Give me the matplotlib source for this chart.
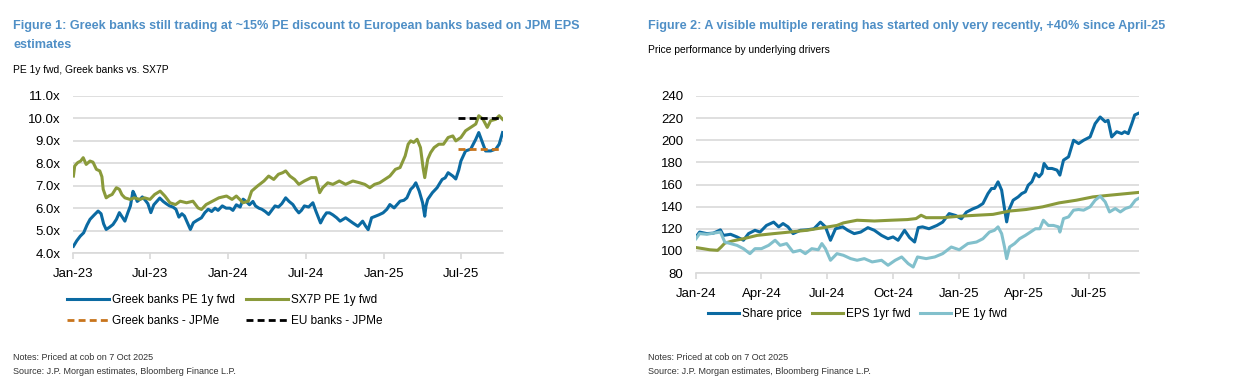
import matplotlib
matplotlib.use('Agg')
import matplotlib.pyplot as plt
import matplotlib.dates as mdates
import pandas as pd

# ---- Figure 1 data: PE 1y fwd ----
greek_dates = ['2023-01-02', '2023-01-10', '2023-01-18', '2023-01-26', '2023-02-03', '2023-02-10',
               '2023-02-20', '2023-03-01', '2023-03-08', '2023-03-14', '2023-03-20', '2023-03-28',
               '2023-04-05', '2023-04-13', '2023-04-20', '2023-04-27', '2023-05-03', '2023-05-10',
               '2023-05-16', '2023-05-22', '2023-05-26', '2023-06-01', '2023-06-08', '2023-06-13',
               '2023-06-20', '2023-06-26', '2023-07-03', '2023-07-10', '2023-07-17', '2023-07-24',
               '2023-08-01', '2023-08-08', '2023-08-16', '2023-08-24', '2023-08-31', '2023-09-07',
               '2023-09-14', '2023-09-20', '2023-09-27', '2023-10-04', '2023-10-11', '2023-10-19',
               '2023-10-30', '2023-11-07', '2023-11-15', '2023-11-23', '2023-12-01', '2023-12-08',
               '2023-12-18', '2023-12-27', '2024-01-05', '2024-01-12', '2024-01-20', '2024-01-29',
               '2024-02-05', '2024-02-12', '2024-02-20', '2024-02-28', '2024-03-05', '2024-03-13',
               '2024-03-20', '2024-03-28', '2024-04-05', '2024-04-12', '2024-04-20', '2024-04-28',
               '2024-05-06', '2024-05-15', '2024-05-23', '2024-06-01', '2024-06-08', '2024-06-15',
               '2024-06-21', '2024-06-28', '2024-07-08', '2024-07-18', '2024-07-25', '2024-08-05',
               '2024-08-12', '2024-08-19', '2024-08-26', '2024-09-03', '2024-09-12', '2024-09-20',
               '2024-10-03', '2024-10-12', '2024-10-20', '2024-11-01', '2024-11-12', '2024-11-19',
               '2024-11-25', '2024-12-03', '2024-12-12', '2024-12-20', '2024-12-30', '2025-01-08',
               '2025-01-15', '2025-01-25', '2025-02-08', '2025-02-17', '2025-02-24', '2025-03-05',
               '2025-03-11', '2025-03-17', '2025-03-25', '2025-04-02', '2025-04-07', '2025-04-10',
               '2025-04-14', '2025-04-25', '2025-05-06', '2025-05-12', '2025-05-18', '2025-05-25',
               '2025-06-01', '2025-06-12', '2025-06-19', '2025-06-26', '2025-07-01', '2025-07-12',
               '2025-07-24', '2025-08-05', '2025-08-12', '2025-08-22', '2025-08-28', '2025-09-09',
               '2025-09-21', '2025-09-29', '2025-10-07']
greek_pe = [4.30, 4.55, 4.75, 4.90, 5.25, 5.50,
            5.70, 5.87, 5.75, 5.30, 5.05, 5.15,
            5.27, 5.50, 5.80, 5.60, 5.42, 5.80,
            6.10, 6.75, 6.60, 6.30, 6.40, 6.50,
            6.35, 6.20, 5.80, 6.15, 6.30, 6.45,
            6.30, 6.20, 6.10, 6.05, 5.95, 5.60,
            5.75, 5.65, 5.35, 5.05, 5.35, 5.45,
            5.57, 5.80, 5.95, 5.85, 6.00, 5.90,
            6.10, 6.00, 6.00, 5.90, 6.15, 6.05,
            6.40, 6.30, 6.15, 6.30, 6.10, 6.00,
            5.95, 5.85, 5.72, 5.90, 6.10, 6.05,
            6.20, 6.46, 6.30, 6.16, 5.95, 5.79,
            5.90, 6.10, 6.05, 6.24, 5.87, 5.34,
            5.60, 5.79, 5.79, 5.70, 5.57, 5.42,
            5.57, 5.45, 5.34, 5.19, 5.42, 5.20,
            5.04, 5.57, 5.64, 5.70, 5.79, 5.95,
            6.16, 6.01, 6.31, 6.35, 6.46, 6.84,
            6.95, 7.13, 6.76, 6.24, 5.64, 6.10,
            6.39, 6.69, 6.91, 7.10, 7.28, 7.35,
            7.58, 7.43, 7.30, 7.70, 8.10, 8.55,
            8.63, 9.07, 9.37, 8.85, 8.55, 8.55,
            8.63, 8.85, 9.37]

sx7p_dates = ['2023-01-02', '2023-01-05', '2023-01-12', '2023-01-19', '2023-01-25', '2023-02-01',
              '2023-02-10', '2023-02-17', '2023-02-25', '2023-03-05', '2023-03-10', '2023-03-13',
              '2023-03-20', '2023-03-27', '2023-04-03', '2023-04-13', '2023-04-20', '2023-04-26',
              '2023-05-03', '2023-05-15', '2023-05-25', '2023-06-07', '2023-06-18', '2023-07-01',
              '2023-07-12', '2023-07-25', '2023-08-05', '2023-08-17', '2023-08-30', '2023-09-10',
              '2023-09-25', '2023-10-10', '2023-10-22', '2023-10-30', '2023-11-10', '2023-11-25',
              '2023-12-10', '2023-12-28', '2024-01-10', '2024-01-20', '2024-02-05', '2024-02-17',
              '2024-02-25', '2024-03-10', '2024-03-25', '2024-04-05', '2024-04-17', '2024-04-28',
              '2024-05-08', '2024-05-15', '2024-05-25', '2024-06-05', '2024-06-15', '2024-06-28',
              '2024-07-14', '2024-07-25', '2024-08-03', '2024-08-10', '2024-08-22', '2024-09-03',
              '2024-09-18', '2024-10-03', '2024-10-20', '2024-11-05', '2024-11-17', '2024-11-29',
              '2024-12-10', '2024-12-22', '2025-01-03', '2025-01-15', '2025-01-28', '2025-02-08',
              '2025-02-20', '2025-02-27', '2025-03-05', '2025-03-12', '2025-03-20', '2025-03-28',
              '2025-04-03', '2025-04-07', '2025-04-14', '2025-04-21', '2025-04-29', '2025-05-10',
              '2025-05-21', '2025-06-01', '2025-06-12', '2025-06-19', '2025-07-01', '2025-07-12',
              '2025-07-24', '2025-08-05', '2025-08-12', '2025-08-22', '2025-09-01', '2025-09-09',
              '2025-09-21', '2025-09-29', '2025-10-07']
sx7p_pe = [7.43, 7.88, 8.03, 8.10, 8.25, 7.95,
           8.10, 8.05, 7.73, 7.66, 7.40, 6.84,
           6.46, 6.55, 6.61, 6.91, 6.84, 6.60,
           6.46, 6.39, 6.46, 6.39, 6.46, 6.39,
           6.61, 6.76, 6.54, 6.24, 6.16, 6.31,
           6.24, 6.31, 6.01, 5.94, 6.16, 6.31,
           6.46, 6.54, 6.39, 6.54, 6.24, 6.31,
           6.76, 6.99, 7.21, 7.43, 7.28, 7.51,
           7.58, 7.66, 7.43, 7.28, 7.06, 7.21,
           7.36, 7.36, 6.69, 6.91, 7.13, 7.06,
           7.21, 7.06, 7.21, 7.13, 7.06, 6.91,
           7.06, 7.13, 7.28, 7.43, 7.73, 7.81,
           8.33, 8.85, 9.00, 8.93, 9.07, 8.70,
           7.81, 7.36, 8.18, 8.48, 8.70, 8.85,
           8.85, 9.15, 9.22, 9.00, 9.15, 9.45,
           9.60, 9.75, 10.12, 9.96, 9.60, 9.90,
           9.96, 10.12, 9.96]

# JPMe forward estimates (flat dashed lines)
jpme_dates = ['2025-06-24', '2025-10-01']
greek_jpme = [8.65, 8.65]
eu_jpme = [10.0, 10.0]

# ---- Figure 2 data: price performance drivers (rebased) ----
share_dates = ['2024-01-01', '2024-01-06', '2024-01-16', '2024-01-25', '2024-02-04', '2024-02-08',
               '2024-02-18', '2024-02-27', '2024-03-07', '2024-03-14', '2024-03-23', '2024-03-30',
               '2024-04-08', '2024-04-18', '2024-04-25', '2024-05-01', '2024-05-08', '2024-05-15',
               '2024-05-25', '2024-06-03', '2024-06-13', '2024-06-22', '2024-06-29', '2024-07-06',
               '2024-07-13', '2024-07-23', '2024-07-30', '2024-08-08', '2024-08-17', '2024-08-27',
               '2024-09-05', '2024-09-15', '2024-09-24', '2024-10-01', '2024-10-08', '2024-10-17',
               '2024-10-24', '2024-10-31', '2024-11-05', '2024-11-11', '2024-11-20', '2024-12-01',
               '2024-12-09', '2024-12-18', '2024-12-27', '2025-01-04', '2025-01-11', '2025-01-20',
               '2025-01-27', '2025-02-03', '2025-02-10', '2025-02-15', '2025-02-19', '2025-02-24',
               '2025-03-01', '2025-03-05', '2025-03-08', '2025-03-11', '2025-03-17', '2025-03-24',
               '2025-03-29', '2025-04-03', '2025-04-07', '2025-04-12', '2025-04-17', '2025-04-22',
               '2025-04-26', '2025-04-29', '2025-05-04', '2025-05-10', '2025-05-17', '2025-05-21',
               '2025-05-26', '2025-06-02', '2025-06-09', '2025-06-16', '2025-06-23', '2025-07-02',
               '2025-07-09', '2025-07-16', '2025-07-23', '2025-07-27', '2025-08-01', '2025-08-08',
               '2025-08-15', '2025-08-19', '2025-08-24', '2025-08-29', '2025-09-02', '2025-09-07']
share_price = [112.6, 117.0, 115.6, 116.0, 119.0, 114.0,
               115.0, 112.6, 109.6, 115.6, 118.6, 117.0,
               123.0, 126.0, 121.7, 124.7, 121.7, 115.6,
               118.6, 119.0, 120.0, 126.0, 121.7, 109.6,
               120.0, 121.7, 118.6, 115.6, 117.0, 121.0,
               118.6, 114.0, 111.0, 112.6, 109.6, 118.6,
               112.0, 108.0, 121.0, 121.7, 120.0, 123.0,
               126.0, 133.7, 132.0, 129.0, 135.0, 138.0,
               139.8, 142.8, 151.8, 156.4, 156.4, 162.4,
               154.9, 138.0, 126.2, 136.8, 145.8, 148.8,
               151.8, 153.4, 159.4, 162.4, 170.0, 167.0,
               170.0, 179.0, 174.5, 174.5, 173.0, 168.5,
               182.0, 185.0, 200.0, 197.0, 200.0, 203.0,
               215.0, 221.0, 216.8, 218.0, 203.0, 207.7,
               206.0, 207.7, 206.0, 215.0, 222.8, 224.3]

eps_dates = ['2024-01-01', '2024-01-11', '2024-01-20', '2024-01-31', '2024-02-05', '2024-02-10',
             '2024-02-21', '2024-03-07', '2024-03-26', '2024-04-18', '2024-05-10', '2024-06-03',
             '2024-06-26', '2024-07-15', '2024-07-24', '2024-08-12', '2024-09-05', '2024-09-28',
             '2024-10-21', '2024-11-02', '2024-11-09', '2024-11-16', '2024-12-09', '2025-01-01',
             '2025-01-25', '2025-02-17', '2025-03-12', '2025-04-04', '2025-04-27', '2025-05-20',
             '2025-06-13', '2025-07-06', '2025-07-29', '2025-08-22', '2025-09-07']
eps_fwd = [103.0, 102.0, 101.0, 100.5, 103.5, 107.0,
           109.0, 111.0, 114.0, 115.6, 117.0, 118.6,
           121.0, 123.0, 125.3, 127.7, 127.0, 127.7,
           128.3, 129.2, 132.2, 130.0, 130.0, 131.3,
           132.2, 133.0, 136.0, 137.4, 139.8, 143.4,
           145.8, 148.8, 150.3, 151.8, 152.8]

pe_dates = ['2024-01-01', '2024-01-06', '2024-01-16', '2024-01-25', '2024-02-04', '2024-02-10',
            '2024-02-18', '2024-02-27', '2024-03-07', '2024-03-16', '2024-03-23', '2024-04-01',
            '2024-04-11', '2024-04-20', '2024-04-27', '2024-05-06', '2024-05-15', '2024-05-25',
            '2024-06-01', '2024-06-10', '2024-06-19', '2024-06-24', '2024-06-29', '2024-07-06',
            '2024-07-15', '2024-07-24', '2024-08-03', '2024-08-12', '2024-08-22', '2024-09-02',
            '2024-09-15', '2024-09-24', '2024-10-04', '2024-10-13', '2024-10-22', '2024-10-29',
            '2024-11-04', '2024-11-16', '2024-11-28', '2024-12-09', '2024-12-21', '2025-01-01',
            '2025-01-13', '2025-01-25', '2025-02-03', '2025-02-12', '2025-02-19', '2025-02-24',
            '2025-03-01', '2025-03-05', '2025-03-08', '2025-03-12', '2025-03-19', '2025-03-26',
            '2025-04-03', '2025-04-10', '2025-04-17', '2025-04-23', '2025-04-28', '2025-05-05',
            '2025-05-12', '2025-05-19', '2025-05-21', '2025-05-26', '2025-06-02', '2025-06-09',
            '2025-06-16', '2025-06-23', '2025-07-02', '2025-07-09', '2025-07-16', '2025-07-23',
            '2025-07-29', '2025-08-06', '2025-08-13', '2025-08-20', '2025-08-27', '2025-09-03',
            '2025-09-07']
pe_fwd = [111.0, 115.6, 115.0, 116.0, 117.0, 108.0,
          106.6, 105.0, 102.0, 97.5, 102.0, 102.0,
          105.0, 109.6, 105.0, 106.6, 99.0, 100.5,
          97.5, 102.0, 101.0, 106.6, 102.0, 91.5,
          97.5, 96.0, 93.0, 91.5, 93.0, 90.0,
          91.5, 87.0, 91.5, 94.5, 88.5, 85.4,
          94.5, 93.0, 94.5, 97.5, 103.5, 101.0,
          106.6, 108.0, 111.0, 117.0, 118.6, 121.7,
          115.6, 103.5, 93.0, 103.5, 106.6, 111.0,
          114.0, 117.0, 120.0, 120.0, 127.7, 123.0,
          123.0, 121.7, 117.0, 129.2, 130.7, 136.8,
          137.4, 136.8, 139.8, 145.8, 149.4, 144.3,
          135.2, 138.3, 135.2, 138.3, 139.8, 145.8,
          147.3]

TITLE_BLUE = '#4f8fc6'
GREEK_BLUE = '#0b6aa2'
OLIVE = '#8a9a3b'
ORANGE = '#c8741c'
LIGHT_BLUE = '#82c0cc'
GRID = '#d9d9d9'

plt.rcParams['font.family'] = ['Liberation Sans', 'DejaVu Sans']
plt.rcParams['font.size'] = 9

fig = plt.figure(figsize=(12.33, 3.87), dpi=100)


def style_axis(ax):
	for side in ['top', 'right', 'left']:
		ax.spines[side].set_visible(False)
	ax.spines['bottom'].set_color(GRID)
	ax.spines['bottom'].set_linewidth(1.2)
	ax.grid(axis='y', color=GRID, linewidth=1.2)
	ax.set_axisbelow(True)
	ax.tick_params(axis='y', length=0, labelsize=9.5, pad=9)
	ax.tick_params(axis='x', length=4, color=GRID, width=1.2, labelsize=9.5, pad=7)


#left chart
ax1 = fig.add_axes([73 / 1233, 1 - 253 / 387, 430 / 1233, 157 / 387])
style_axis(ax1)
l1, = ax1.plot(pd.to_datetime(greek_dates), greek_pe, color=GREEK_BLUE, lw=2.2, label='Greek banks PE 1y fwd')
l2, = ax1.plot(pd.to_datetime(sx7p_dates), sx7p_pe, color=OLIVE, lw=2.2, label='SX7P PE 1y fwd')
l3, = ax1.plot(pd.to_datetime(jpme_dates), greek_jpme, color=ORANGE, lw=2, linestyle=(0, (2.5, 1.5)), label='Greek banks - JPMe')
l4, = ax1.plot(pd.to_datetime(jpme_dates), eu_jpme, color='black', lw=2, linestyle=(0, (2.5, 1.5)), label='EU banks - JPMe')
ax1.set_ylim(4, 11)
ax1.set_yticks(range(4, 12))
ax1.set_yticklabels([f'{v:.1f}x' for v in range(4, 12)])
ax1.set_xlim(pd.Timestamp('2023-01-01'), pd.Timestamp('2025-10-08'))
ax1.xaxis.set_major_locator(mdates.MonthLocator(bymonth=[1, 7]))
ax1.xaxis.set_major_formatter(mdates.DateFormatter('%b-%y'))
ax1.legend(handles=[l1, l3, l2, l4], ncol=2, frameon=False, loc='upper left',
		   bbox_to_anchor=(67 / 1233, 1 - 294 / 387), bbox_transform=fig.transFigure,
		   fontsize=8.5, handlelength=3.55, handletextpad=0.3, columnspacing=0.9,
		   labelspacing=0.75, borderaxespad=0, borderpad=0)

#right chart
ax2 = fig.add_axes([696 / 1233, 1 - 273 / 387, 443 / 1233, 177 / 387])
style_axis(ax2)
r1, = ax2.plot(pd.to_datetime(share_dates), share_price, color=GREEK_BLUE, lw=2.2, label='Share price')
r2, = ax2.plot(pd.to_datetime(eps_dates), eps_fwd, color=OLIVE, lw=2.2, label='EPS 1yr fwd')
r3, = ax2.plot(pd.to_datetime(pe_dates), pe_fwd, color=LIGHT_BLUE, lw=2.2, label='PE 1y fwd')
ax2.set_ylim(80, 240)
ax2.set_yticks(range(80, 241, 20))
ax2.set_xlim(pd.Timestamp('2024-01-01'), pd.Timestamp('2025-09-08'))
ax2.xaxis.set_major_locator(mdates.MonthLocator(bymonth=[1, 4, 7, 10]))
ax2.xaxis.set_major_formatter(mdates.DateFormatter('%b-%y'))
ax2.legend(handles=[r1, r2, r3], ncol=3, frameon=False, loc='upper left',
		   bbox_to_anchor=(708 / 1233, 1 - 308 / 387), bbox_transform=fig.transFigure,
		   fontsize=8.5, handlelength=2.65, handletextpad=0.25, columnspacing=0.8,
		   borderaxespad=0, borderpad=0)

#titles and notes
fig.text(13 / 1233, 1 - 26 / 387, 'Figure 1: Greek banks still trading at ~15% PE discount to European banks based on JPM EPS',
		 color=TITLE_BLUE, fontsize=9.1, fontweight='bold', va='center')
fig.text(13 / 1233, 1 - 45 / 387, 'estimates', color=TITLE_BLUE, fontsize=9.1, fontweight='bold', va='center')
fig.text(13 / 1233, 1 - 70 / 387, 'PE 1y fwd, Greek banks vs. SX7P', fontsize=7.4, va='center')

fig.text(648 / 1233, 1 - 26 / 387, 'Figure 2: A visible multiple rerating has started only very recently, +40% since April-25',
		 color=TITLE_BLUE, fontsize=9.1, fontweight='bold', va='center')
fig.text(648 / 1233, 1 - 50 / 387, 'Price performance by underlying drivers', fontsize=7.4, va='center')

for x0 in [13, 648]:
	fig.text(x0 / 1233, 1 - 358 / 387, 'Notes: Priced at cob on 7 Oct 2025', fontsize=6.5, color='#333333', va='center')
	fig.text(x0 / 1233, 1 - 372 / 387, 'Source: J.P. Morgan estimates, Bloomberg Finance L.P.', fontsize=6.5, color='#333333', va='center')

fig.savefig('out.png', dpi=100)
